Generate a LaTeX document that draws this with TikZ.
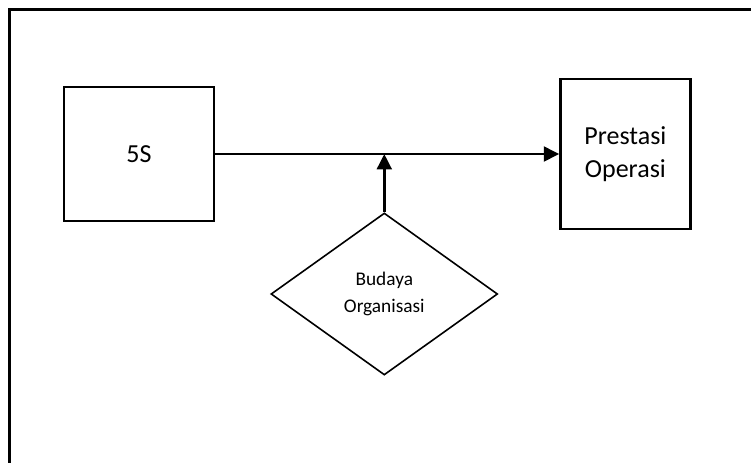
\documentclass[tikz,border=0pt]{standalone}
\usepackage{fontspec}
\setmainfont{Carlito}
\usepackage{tikz}
\usetikzlibrary{arrows.meta, positioning, shapes.geometric}

\begin{document}
\begin{tikzpicture}[
  x=0.75pt, y=-0.75pt,
  box/.style   = {draw, line width=1.8pt, inner sep=0pt, align=center,
                  font=\fontsize{19.5}{24.5}\selectfont},
  ruit/.style  = {draw, diamond, line width=1.2pt, inner sep=0pt, align=center,
                  minimum width=170pt, minimum height=121.5pt,
                  font=\fontsize{14.5}{20}\selectfont},
  arr/.style   = {-{Triangle[length=11.5pt, width=11pt]}, line width=2.2pt},
]
% ── Page frame (open to the right and bottom) ────────────────────────────────
\clip (0,0) rectangle (751,462);
\draw[line width=2pt] (9.5,480) -- (9.5,9.5) -- (780,9.5);

% ── Nodes ────────────────────────────────────────────────────────────────────
\node[box, minimum width=112.5pt, minimum height=100.5pt] (fives) at (139,154) {5S};
\node[box, minimum width=97.5pt, minimum height=112.5pt, right=258pt of fives] (prestasi)
  {Prestasi\\Operasi};
\node[ruit] (budaya) at (384.3,294) {Budaya\\Organisasi};

% ── Connectors ───────────────────────────────────────────────────────────────
\coordinate (join) at (budaya.north |- fives.east);
\draw[arr] (fives.east) -- (prestasi.west);
\draw[arr] (budaya.north) -- (join);
\end{tikzpicture}
\end{document}
